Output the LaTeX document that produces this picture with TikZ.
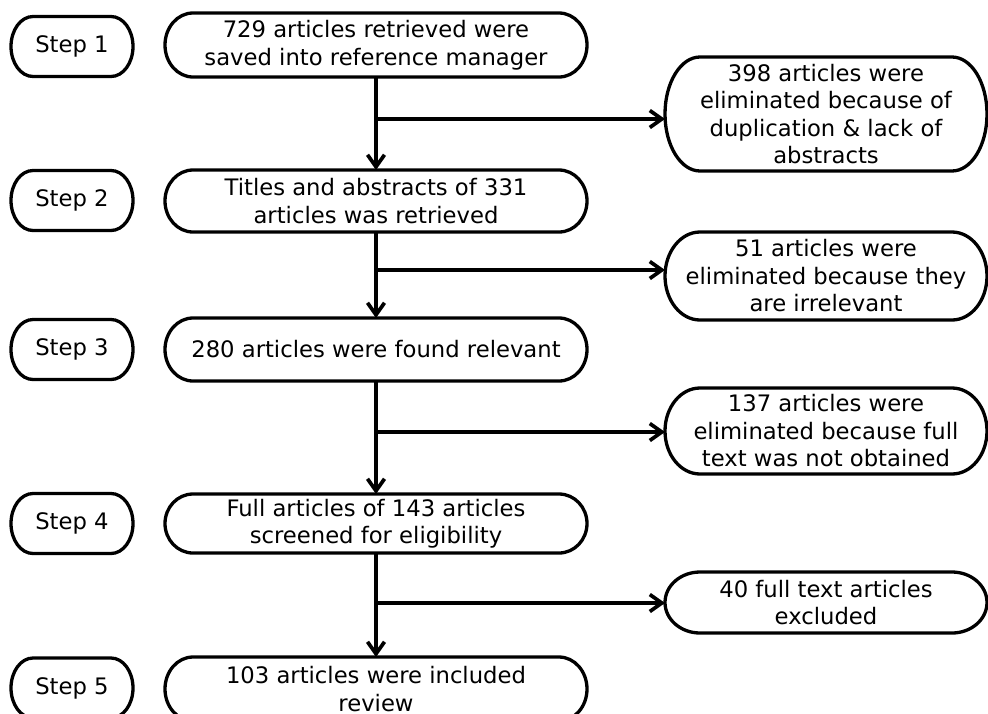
\documentclass[tikz,border=0pt]{standalone}
\usepackage{fontspec}
\setmainfont{DejaVu Sans}
\usetikzlibrary{arrows.meta,calc}
\tikzset{
  box/.style={draw=none, inner sep=0pt, outer sep=0pt, align=center,
    font=\fontsize{22.7}{27.5}\selectfont},
  stepbox/.style={box, minimum width=122pt, minimum height=60pt},
  mainbox/.style={box, minimum width=422pt},
  sidebox/.style={box, minimum width=322pt},
  edge/.style={line width=3.3pt},
  arr/.style={line width=3.7pt, -{Straight Barb[length=12pt,width=17pt]}},
}
\newcommand\stadium[2]{\draw[edge] let \p1=(#1.north west), \p2=(#1.south east), \n1={(\y1-\y2)/2} in
  (\x1+#2,\y1) -- (\x2-#2,\y1) arc[start angle=90,end angle=-90,x radius=#2,y radius=\n1]
  -- (\x1+#2,\y2) arc[start angle=270,end angle=90,x radius=#2,y radius=\n1] -- cycle;}
\begin{document}
\begin{tikzpicture}[x=1pt,y=-1pt]
\useasboundingbox (0,0) rectangle (988,713);
% step boxes
\node[stepbox] (s1) at (72,46.5) {Step 1};
\node[stepbox] (s2) at (72,200.5) {Step 2};
\node[stepbox] (s3) at (72,349.5) {Step 3};
\node[stepbox] (s4) at (72,523.5) {Step 4};
\node[stepbox] (s5) at (72,688) {Step 5};
% main boxes
\node[mainbox, minimum height=64pt] (a) at (376,45) {729 articles retrieved were\\saved into reference manager};
\node[mainbox, minimum height=62pt] (b) at (376,201) {Titles and abstracts of 331\\articles was retrieved};
\node[mainbox, minimum height=63pt] (c) at (376,349.5) {280 articles were found relevant};
\node[mainbox, minimum height=59pt] (d) at (376,523.5) {Full articles of 143 articles\\screened for eligibility};
\node[mainbox, minimum height=64pt] (e) at (376,689) {103 articles were included\\review};
% side boxes
\node[sidebox, minimum height=114pt] (r1) at (826,114) {398 articles were\\eliminated because of\\duplication \& lack of\\abstracts};
\node[sidebox, minimum height=88pt] (r2) at (826,276) {51 articles were\\eliminated because they\\are irrelevant};
\node[sidebox, minimum height=86pt] (r3) at (826,431) {137 articles were\\eliminated because full\\text was not obtained};
\node[sidebox, minimum height=61pt] (r4) at (826,602.5) {40 full text articles\\excluded};
% outlines
\stadium{s1}{22pt} \stadium{s2}{22pt} \stadium{s3}{22pt} \stadium{s4}{22pt} \stadium{s5}{22pt}
\stadium{a}{28pt} \stadium{b}{28pt} \stadium{c}{28pt} \stadium{d}{28pt} \stadium{e}{28pt}
\stadium{r1}{35pt} \stadium{r2}{35pt} \stadium{r3}{35pt} \stadium{r4}{35pt}
% branch points
\coordinate (j1) at (376,119);
\coordinate (j2) at (376,270);
\coordinate (j3) at (376,432);
\coordinate (j4) at (376,603);
% vertical connectors
\draw[arr] (a.south) -- (b.north);
\draw[arr] (b.south) -- (c.north);
\draw[arr] (c.south) -- (d.north);
\draw[arr] (d.south) -- (e.north);
% branches
\draw[arr] (j1) -- (j1 -| r1.west);
\draw[arr] (j2) -- (j2 -| r2.west);
\draw[arr] (j3) -- (j3 -| r3.west);
\draw[arr] (j4) -- (j4 -| r4.west);
\end{tikzpicture}
\end{document}
